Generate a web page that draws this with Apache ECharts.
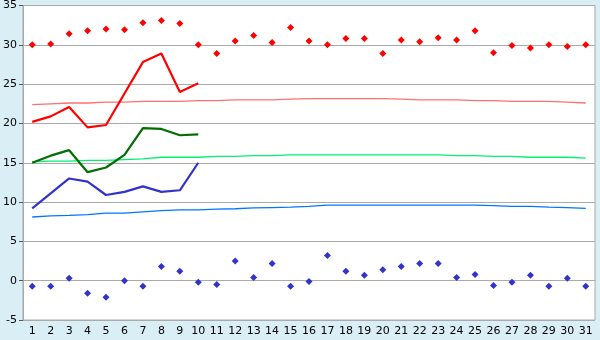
<!DOCTYPE html>
<html>
<head>
<meta charset="utf-8">
<script src="https://cdn.jsdelivr.net/npm/echarts@6/dist/echarts.min.js"></script>
<style>
    html, body { margin: 0; padding: 0; background: #d9eef5; }
    #chart { width: 600px; height: 340px; }
</style>
</head>
<body>
<div id="chart"></div>
<script>
var days = [];
for (var d = 1; d <= 31; d++) days.push(String(d));

// 日最高/最低记录
var recordMax = [30.0, 30.1, 31.4, 31.8, 32.0, 31.9, 32.8, 33.1, 32.7, 30.0, 28.9, 30.5, 31.2, 30.3, 32.2,
    30.5, 30.0, 30.8, 30.8, 28.9, 30.6, 30.4, 30.9, 30.6, 31.8, 29.0, 29.9, 29.6, 30.0, 29.8, 30.0];
var recordMin = [-0.7, -0.7, 0.3, -1.6, -2.1, 0.0, -0.7, 1.8, 1.2, -0.2, -0.5, 2.5, 0.4, 2.2, -0.7,
    -0.1, 3.2, 1.2, 0.7, 1.4, 1.8, 2.2, 2.2, 0.4, 0.8, -0.6, -0.2, 0.7, -0.7, 0.3, -0.7];

// 平均值
var normalMax = [22.4, 22.5, 22.6, 22.6, 22.7, 22.7, 22.8, 22.8, 22.8, 22.9, 22.9, 23.0, 23.0, 23.0, 23.1,
    23.15, 23.15, 23.15, 23.15, 23.15, 23.1, 23.0, 23.0, 23.0, 22.9, 22.9, 22.8, 22.8, 22.8, 22.7, 22.6];
var normalMean = [15.1, 15.2, 15.2, 15.3, 15.3, 15.4, 15.5, 15.7, 15.7, 15.7, 15.8, 15.8, 15.9, 15.9, 16.0,
    16.0, 16.0, 16.0, 16.0, 16.0, 16.0, 16.0, 16.0, 15.9, 15.9, 15.8, 15.8, 15.7, 15.7, 15.7, 15.6];
var normalMin = [8.1, 8.25, 8.3, 8.4, 8.6, 8.6, 8.75, 8.9, 9.0, 9.0, 9.1, 9.15, 9.25, 9.3, 9.35,
    9.45, 9.6, 9.6, 9.6, 9.6, 9.6, 9.6, 9.6, 9.6, 9.6, 9.55, 9.45, 9.45, 9.35, 9.3, 9.2];

// 本月实测 (1-10日)
var actualMax = [20.2, 20.9, 22.1, 19.5, 19.8, 23.8, 27.8, 28.9, 24.0, 25.1];
var actualMean = [15.0, 15.9, 16.6, 13.8, 14.4, 16.0, 19.4, 19.3, 18.5, 18.6];
var actualMin = [9.2, 11.1, 13.0, 12.6, 10.9, 11.3, 12.0, 11.3, 11.5, 15.0];

var yTicks = { min: -5, max: 35, interval: 5 };

function lineSeries(name, data, color, width) {
    return {
        name: name,
        type: 'line',
        data: data,
        symbol: 'none',
        animation: false,
        lineStyle: { color: color, width: width },
        z: width > 1.5 ? 4 : 3
    };
}

function dotSeries(name, data, color) {
    return {
        name: name,
        type: 'scatter',
        data: data,
        symbol: 'diamond',
        symbolSize: 7,
        animation: false,
        itemStyle: { color: color, opacity: 1 },
        z: 5
    };
}

var chart = echarts.init(document.getElementById('chart'));
var option = {
    backgroundColor: '#d9eef5',
    textStyle: { fontFamily: 'DejaVu Sans' },
    grid: { left: 21, right: 5, top: 5, bottom: 20, show: true, backgroundColor: '#ffffff', borderColor: '#aaaaaa', borderWidth: 1 },
    xAxis: {
        type: 'category',
        data: days,
        boundaryGap: true,
        axisLine: { lineStyle: { color: '#aaaaaa' } },
        axisTick: { alignWithLabel: true, length: 4, lineStyle: { color: '#555555' } },
        axisLabel: { color: '#000000', fontSize: 11, margin: 6, interval: 0 },
        splitLine: { show: false }
    },
    yAxis: {
        type: 'value',
        min: yTicks.min,
        max: yTicks.max,
        interval: yTicks.interval,
        axisLine: { show: true, lineStyle: { color: '#aaaaaa' } },
        axisTick: { show: true, length: 4, lineStyle: { color: '#555555' } },
        axisLabel: { color: '#000000', fontSize: 11, margin: 6 },
        splitLine: { lineStyle: { color: '#aaaaaa' } }
    },
    series: [
        lineSeries('平均最高', normalMax, '#ff7070', 1.3),
        lineSeries('平均', normalMean, '#00f070', 1.3),
        lineSeries('平均最低', normalMin, '#0077ff', 1.3),
        lineSeries('最高', actualMax, '#ff0000', 2.2),
        lineSeries('平均温度', actualMean, '#006e00', 2.2),
        lineSeries('最低', actualMin, '#3333cc', 2.2),
        dotSeries('最高记录', recordMax, '#ff0000'),
        dotSeries('最低记录', recordMin, '#3333cc')
    ]
};
chart.setOption(option);
</script>
</body>
</html>
